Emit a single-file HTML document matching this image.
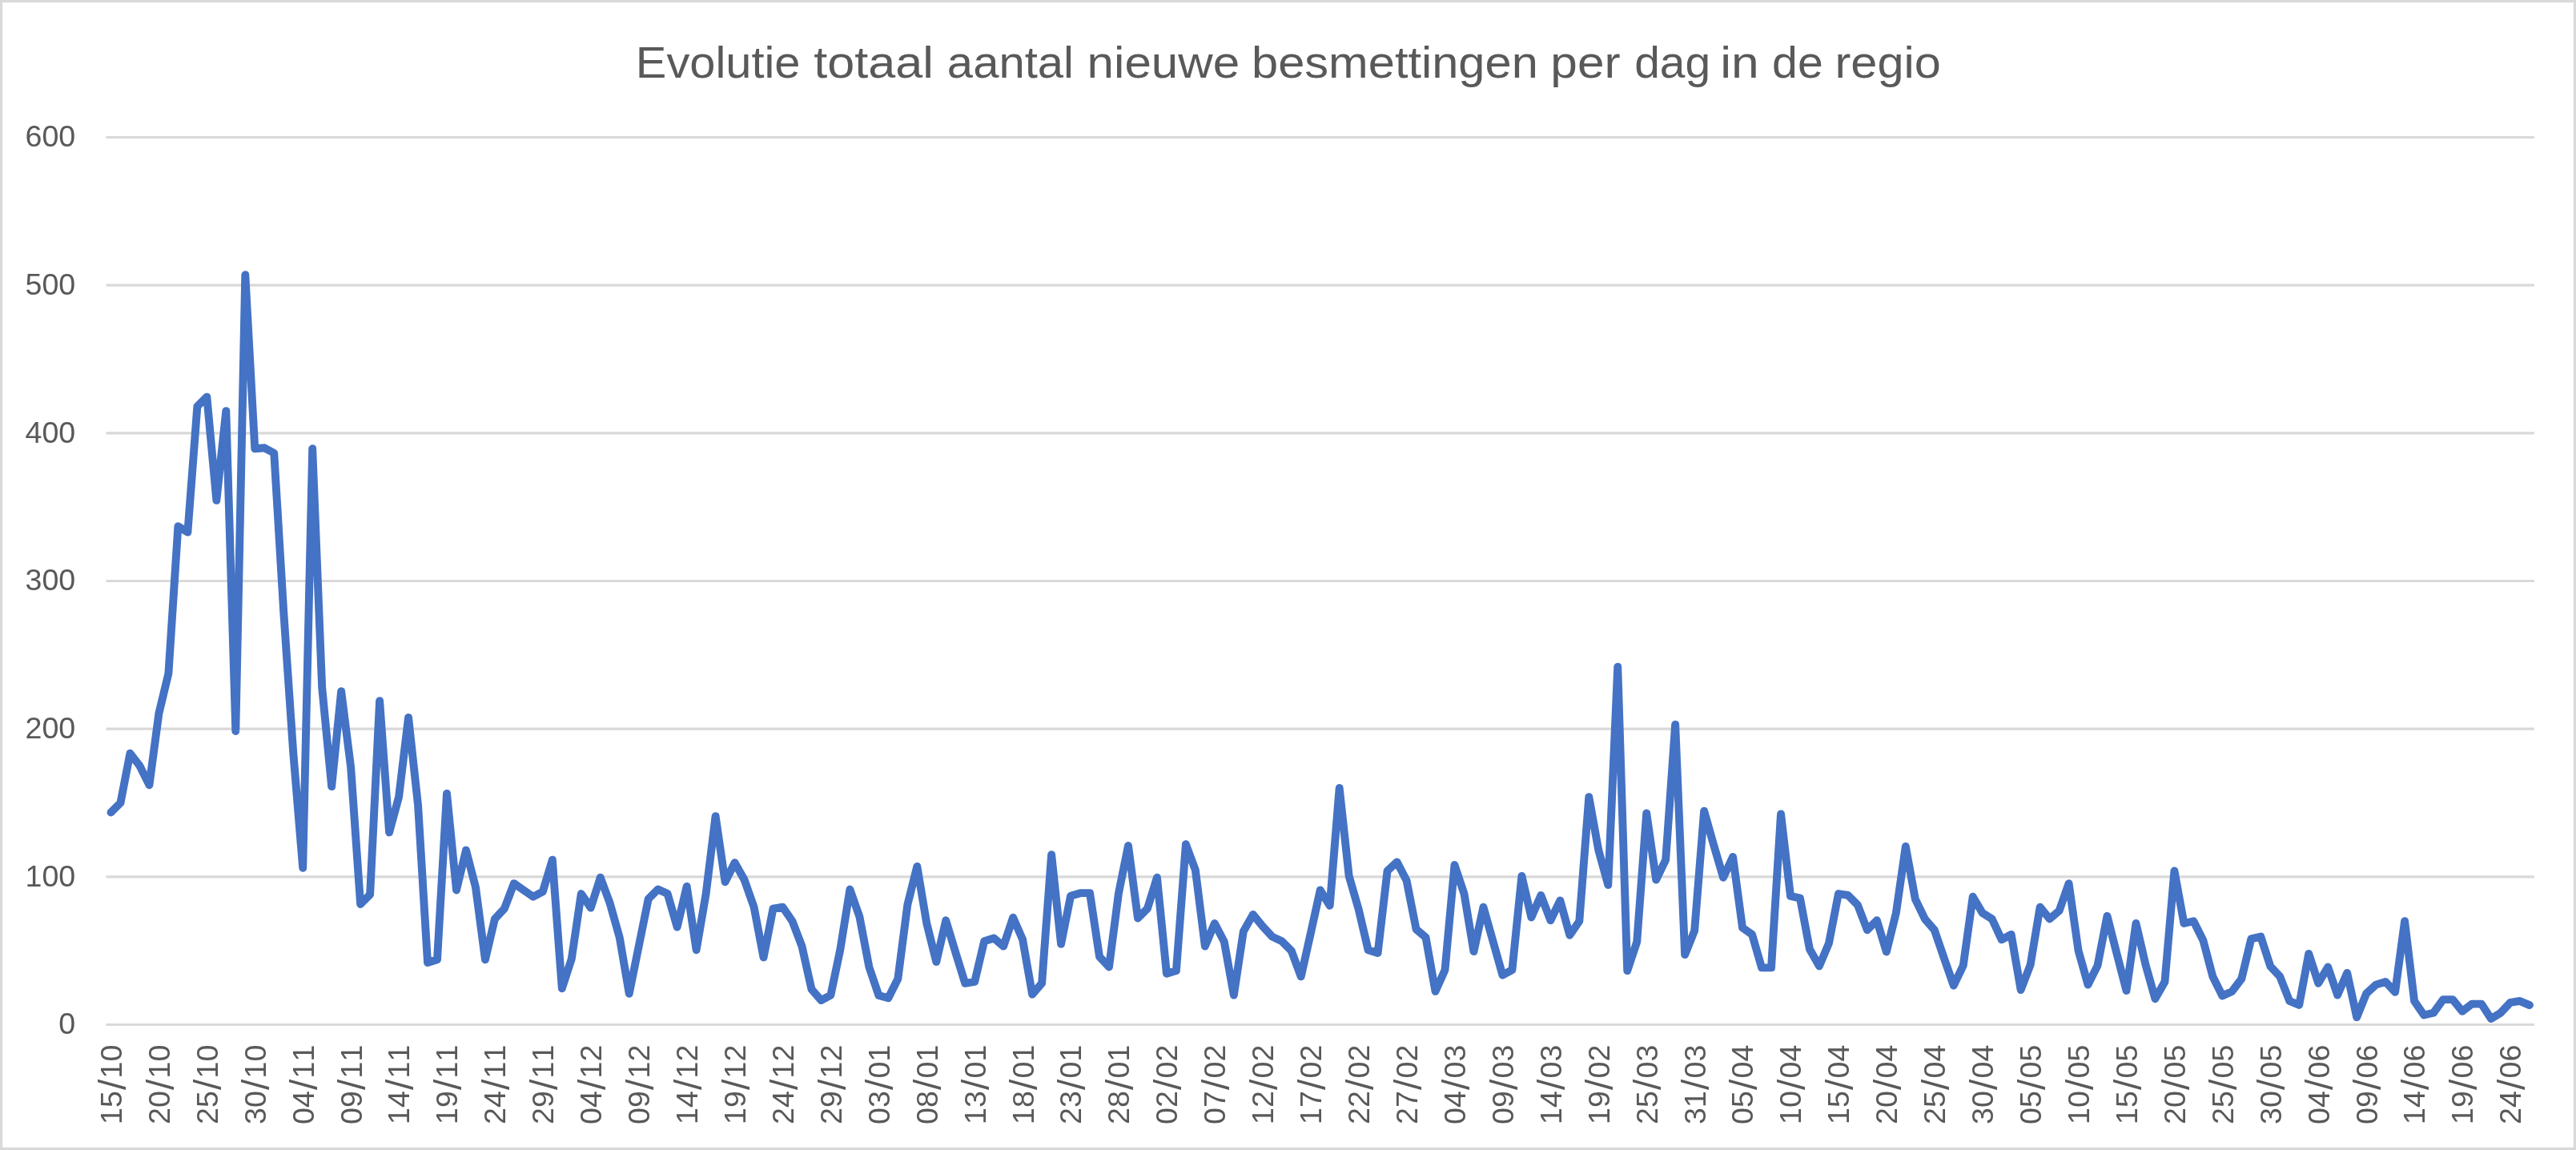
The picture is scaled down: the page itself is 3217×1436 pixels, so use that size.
<!DOCTYPE html>
<html lang="nl"><head><meta charset="utf-8"><title>Evolutie totaal aantal nieuwe besmettingen per dag in de regio</title>
<style>html,body{margin:0;padding:0;background:#fff;}body{width:3217px;height:1436px;overflow:hidden;}svg{display:block;}text{font-family:"Liberation Sans",sans-serif;fill:#595959;}</style></head><body>
<svg width="3217" height="1436" viewBox="0 0 3217 1436">
<rect x="0" y="0" width="3217" height="1436" fill="#fff"/>
<rect x="1.60" y="1.60" width="3213.80" height="1432.80" fill="none" stroke="#d9d9d9" stroke-width="3.20"/>
<g stroke="#d9d9d9" stroke-width="3.1" fill="none">
<line x1="132.5" y1="1279.50" x2="3164.9" y2="1279.50"/>
<line x1="132.5" y1="1094.83" x2="3164.9" y2="1094.83"/>
<line x1="132.5" y1="910.17" x2="3164.9" y2="910.17"/>
<line x1="132.5" y1="725.50" x2="3164.9" y2="725.50"/>
<line x1="132.5" y1="540.83" x2="3164.9" y2="540.83"/>
<line x1="132.5" y1="356.17" x2="3164.9" y2="356.17"/>
<line x1="132.5" y1="171.50" x2="3164.9" y2="171.50"/>
</g>
<g opacity="0.999">
<text id="title" y="97" font-size="54.6"><tspan x="793.87" textLength="205.59" lengthAdjust="spacingAndGlyphs">Evolutie</tspan> <tspan x="1016.28" textLength="149.61" lengthAdjust="spacingAndGlyphs">totaal</tspan> <tspan x="1182.87" textLength="158.11" lengthAdjust="spacingAndGlyphs">aantal</tspan> <tspan x="1357.59" textLength="190.63" lengthAdjust="spacingAndGlyphs">nieuwe</tspan> <tspan x="1563.03" textLength="357.79" lengthAdjust="spacingAndGlyphs">besmettingen</tspan> <tspan x="1936.38" textLength="87.23" lengthAdjust="spacingAndGlyphs">per</tspan> <tspan x="2041.21" textLength="95.01" lengthAdjust="spacingAndGlyphs">dag</tspan> <tspan x="2148.23" textLength="48.57" lengthAdjust="spacingAndGlyphs">in</tspan> <tspan x="2213.10" textLength="63.66" lengthAdjust="spacingAndGlyphs">de</tspan> <tspan x="2291.54" textLength="132.28" lengthAdjust="spacingAndGlyphs">regio</tspan></text>
<g font-size="37.6" text-anchor="end">
<text class="yl" x="94.2" y="1291.40">0</text>
<text class="yl" x="94.2" y="1106.73">100</text>
<text class="yl" x="94.2" y="922.07">200</text>
<text class="yl" x="94.2" y="737.40">300</text>
<text class="yl" x="94.2" y="552.73">400</text>
<text class="yl" x="94.2" y="368.07">500</text>
<text class="yl" x="94.2" y="183.40">600</text>
</g>
<g font-size="37.6">
<text class="xl" transform="translate(151.89 1404.0) rotate(-90)" y="0"><tspan x="0.00 20.90">15</tspan><tspan x="43.03" dy="4.7" font-size="48.0">/</tspan><tspan x="57.60 78.50" dy="-4.7">10</tspan></text>
<text class="xl" transform="translate(211.82 1404.0) rotate(-90)" y="0"><tspan x="0.00 20.90">20</tspan><tspan x="43.03" dy="4.7" font-size="48.0">/</tspan><tspan x="57.60 78.50" dy="-4.7">10</tspan></text>
<text class="xl" transform="translate(271.75 1404.0) rotate(-90)" y="0"><tspan x="0.00 20.90">25</tspan><tspan x="43.03" dy="4.7" font-size="48.0">/</tspan><tspan x="57.60 78.50" dy="-4.7">10</tspan></text>
<text class="xl" transform="translate(331.68 1404.0) rotate(-90)" y="0"><tspan x="0.00 20.90">30</tspan><tspan x="43.03" dy="4.7" font-size="48.0">/</tspan><tspan x="57.60 78.50" dy="-4.7">10</tspan></text>
<text class="xl" transform="translate(391.61 1404.0) rotate(-90)" y="0"><tspan x="0.00 20.90">04</tspan><tspan x="43.03" dy="4.7" font-size="48.0">/</tspan><tspan x="57.60 78.50" dy="-4.7">11</tspan></text>
<text class="xl" transform="translate(451.54 1404.0) rotate(-90)" y="0"><tspan x="0.00 20.90">09</tspan><tspan x="43.03" dy="4.7" font-size="48.0">/</tspan><tspan x="57.60 78.50" dy="-4.7">11</tspan></text>
<text class="xl" transform="translate(511.47 1404.0) rotate(-90)" y="0"><tspan x="0.00 20.90">14</tspan><tspan x="43.03" dy="4.7" font-size="48.0">/</tspan><tspan x="57.60 78.50" dy="-4.7">11</tspan></text>
<text class="xl" transform="translate(571.39 1404.0) rotate(-90)" y="0"><tspan x="0.00 20.90">19</tspan><tspan x="43.03" dy="4.7" font-size="48.0">/</tspan><tspan x="57.60 78.50" dy="-4.7">11</tspan></text>
<text class="xl" transform="translate(631.32 1404.0) rotate(-90)" y="0"><tspan x="0.00 20.90">24</tspan><tspan x="43.03" dy="4.7" font-size="48.0">/</tspan><tspan x="57.60 78.50" dy="-4.7">11</tspan></text>
<text class="xl" transform="translate(691.25 1404.0) rotate(-90)" y="0"><tspan x="0.00 20.90">29</tspan><tspan x="43.03" dy="4.7" font-size="48.0">/</tspan><tspan x="57.60 78.50" dy="-4.7">11</tspan></text>
<text class="xl" transform="translate(751.18 1404.0) rotate(-90)" y="0"><tspan x="0.00 20.90">04</tspan><tspan x="43.03" dy="4.7" font-size="48.0">/</tspan><tspan x="57.60 78.50" dy="-4.7">12</tspan></text>
<text class="xl" transform="translate(811.11 1404.0) rotate(-90)" y="0"><tspan x="0.00 20.90">09</tspan><tspan x="43.03" dy="4.7" font-size="48.0">/</tspan><tspan x="57.60 78.50" dy="-4.7">12</tspan></text>
<text class="xl" transform="translate(871.04 1404.0) rotate(-90)" y="0"><tspan x="0.00 20.90">14</tspan><tspan x="43.03" dy="4.7" font-size="48.0">/</tspan><tspan x="57.60 78.50" dy="-4.7">12</tspan></text>
<text class="xl" transform="translate(930.97 1404.0) rotate(-90)" y="0"><tspan x="0.00 20.90">19</tspan><tspan x="43.03" dy="4.7" font-size="48.0">/</tspan><tspan x="57.60 78.50" dy="-4.7">12</tspan></text>
<text class="xl" transform="translate(990.90 1404.0) rotate(-90)" y="0"><tspan x="0.00 20.90">24</tspan><tspan x="43.03" dy="4.7" font-size="48.0">/</tspan><tspan x="57.60 78.50" dy="-4.7">12</tspan></text>
<text class="xl" transform="translate(1050.83 1404.0) rotate(-90)" y="0"><tspan x="0.00 20.90">29</tspan><tspan x="43.03" dy="4.7" font-size="48.0">/</tspan><tspan x="57.60 78.50" dy="-4.7">12</tspan></text>
<text class="xl" transform="translate(1110.75 1404.0) rotate(-90)" y="0"><tspan x="0.00 20.90">03</tspan><tspan x="43.03" dy="4.7" font-size="48.0">/</tspan><tspan x="57.60 78.50" dy="-4.7">01</tspan></text>
<text class="xl" transform="translate(1170.68 1404.0) rotate(-90)" y="0"><tspan x="0.00 20.90">08</tspan><tspan x="43.03" dy="4.7" font-size="48.0">/</tspan><tspan x="57.60 78.50" dy="-4.7">01</tspan></text>
<text class="xl" transform="translate(1230.61 1404.0) rotate(-90)" y="0"><tspan x="0.00 20.90">13</tspan><tspan x="43.03" dy="4.7" font-size="48.0">/</tspan><tspan x="57.60 78.50" dy="-4.7">01</tspan></text>
<text class="xl" transform="translate(1290.54 1404.0) rotate(-90)" y="0"><tspan x="0.00 20.90">18</tspan><tspan x="43.03" dy="4.7" font-size="48.0">/</tspan><tspan x="57.60 78.50" dy="-4.7">01</tspan></text>
<text class="xl" transform="translate(1350.47 1404.0) rotate(-90)" y="0"><tspan x="0.00 20.90">23</tspan><tspan x="43.03" dy="4.7" font-size="48.0">/</tspan><tspan x="57.60 78.50" dy="-4.7">01</tspan></text>
<text class="xl" transform="translate(1410.40 1404.0) rotate(-90)" y="0"><tspan x="0.00 20.90">28</tspan><tspan x="43.03" dy="4.7" font-size="48.0">/</tspan><tspan x="57.60 78.50" dy="-4.7">01</tspan></text>
<text class="xl" transform="translate(1470.33 1404.0) rotate(-90)" y="0"><tspan x="0.00 20.90">02</tspan><tspan x="43.03" dy="4.7" font-size="48.0">/</tspan><tspan x="57.60 78.50" dy="-4.7">02</tspan></text>
<text class="xl" transform="translate(1530.26 1404.0) rotate(-90)" y="0"><tspan x="0.00 20.90">07</tspan><tspan x="43.03" dy="4.7" font-size="48.0">/</tspan><tspan x="57.60 78.50" dy="-4.7">02</tspan></text>
<text class="xl" transform="translate(1590.19 1404.0) rotate(-90)" y="0"><tspan x="0.00 20.90">12</tspan><tspan x="43.03" dy="4.7" font-size="48.0">/</tspan><tspan x="57.60 78.50" dy="-4.7">02</tspan></text>
<text class="xl" transform="translate(1650.11 1404.0) rotate(-90)" y="0"><tspan x="0.00 20.90">17</tspan><tspan x="43.03" dy="4.7" font-size="48.0">/</tspan><tspan x="57.60 78.50" dy="-4.7">02</tspan></text>
<text class="xl" transform="translate(1710.04 1404.0) rotate(-90)" y="0"><tspan x="0.00 20.90">22</tspan><tspan x="43.03" dy="4.7" font-size="48.0">/</tspan><tspan x="57.60 78.50" dy="-4.7">02</tspan></text>
<text class="xl" transform="translate(1769.97 1404.0) rotate(-90)" y="0"><tspan x="0.00 20.90">27</tspan><tspan x="43.03" dy="4.7" font-size="48.0">/</tspan><tspan x="57.60 78.50" dy="-4.7">02</tspan></text>
<text class="xl" transform="translate(1829.90 1404.0) rotate(-90)" y="0"><tspan x="0.00 20.90">04</tspan><tspan x="43.03" dy="4.7" font-size="48.0">/</tspan><tspan x="57.60 78.50" dy="-4.7">03</tspan></text>
<text class="xl" transform="translate(1889.83 1404.0) rotate(-90)" y="0"><tspan x="0.00 20.90">09</tspan><tspan x="43.03" dy="4.7" font-size="48.0">/</tspan><tspan x="57.60 78.50" dy="-4.7">03</tspan></text>
<text class="xl" transform="translate(1949.76 1404.0) rotate(-90)" y="0"><tspan x="0.00 20.90">14</tspan><tspan x="43.03" dy="4.7" font-size="48.0">/</tspan><tspan x="57.60 78.50" dy="-4.7">03</tspan></text>
<text class="xl" transform="translate(2009.69 1404.0) rotate(-90)" y="0"><tspan x="0.00 20.90">19</tspan><tspan x="43.03" dy="4.7" font-size="48.0">/</tspan><tspan x="57.60 78.50" dy="-4.7">02</tspan></text>
<text class="xl" transform="translate(2069.62 1404.0) rotate(-90)" y="0"><tspan x="0.00 20.90">25</tspan><tspan x="43.03" dy="4.7" font-size="48.0">/</tspan><tspan x="57.60 78.50" dy="-4.7">03</tspan></text>
<text class="xl" transform="translate(2129.55 1404.0) rotate(-90)" y="0"><tspan x="0.00 20.90">31</tspan><tspan x="43.03" dy="4.7" font-size="48.0">/</tspan><tspan x="57.60 78.50" dy="-4.7">03</tspan></text>
<text class="xl" transform="translate(2189.47 1404.0) rotate(-90)" y="0"><tspan x="0.00 20.90">05</tspan><tspan x="43.03" dy="4.7" font-size="48.0">/</tspan><tspan x="57.60 78.50" dy="-4.7">04</tspan></text>
<text class="xl" transform="translate(2249.40 1404.0) rotate(-90)" y="0"><tspan x="0.00 20.90">10</tspan><tspan x="43.03" dy="4.7" font-size="48.0">/</tspan><tspan x="57.60 78.50" dy="-4.7">04</tspan></text>
<text class="xl" transform="translate(2309.33 1404.0) rotate(-90)" y="0"><tspan x="0.00 20.90">15</tspan><tspan x="43.03" dy="4.7" font-size="48.0">/</tspan><tspan x="57.60 78.50" dy="-4.7">04</tspan></text>
<text class="xl" transform="translate(2369.26 1404.0) rotate(-90)" y="0"><tspan x="0.00 20.90">20</tspan><tspan x="43.03" dy="4.7" font-size="48.0">/</tspan><tspan x="57.60 78.50" dy="-4.7">04</tspan></text>
<text class="xl" transform="translate(2429.19 1404.0) rotate(-90)" y="0"><tspan x="0.00 20.90">25</tspan><tspan x="43.03" dy="4.7" font-size="48.0">/</tspan><tspan x="57.60 78.50" dy="-4.7">04</tspan></text>
<text class="xl" transform="translate(2489.12 1404.0) rotate(-90)" y="0"><tspan x="0.00 20.90">30</tspan><tspan x="43.03" dy="4.7" font-size="48.0">/</tspan><tspan x="57.60 78.50" dy="-4.7">04</tspan></text>
<text class="xl" transform="translate(2549.05 1404.0) rotate(-90)" y="0"><tspan x="0.00 20.90">05</tspan><tspan x="43.03" dy="4.7" font-size="48.0">/</tspan><tspan x="57.60 78.50" dy="-4.7">05</tspan></text>
<text class="xl" transform="translate(2608.98 1404.0) rotate(-90)" y="0"><tspan x="0.00 20.90">10</tspan><tspan x="43.03" dy="4.7" font-size="48.0">/</tspan><tspan x="57.60 78.50" dy="-4.7">05</tspan></text>
<text class="xl" transform="translate(2668.90 1404.0) rotate(-90)" y="0"><tspan x="0.00 20.90">15</tspan><tspan x="43.03" dy="4.7" font-size="48.0">/</tspan><tspan x="57.60 78.50" dy="-4.7">05</tspan></text>
<text class="xl" transform="translate(2728.83 1404.0) rotate(-90)" y="0"><tspan x="0.00 20.90">20</tspan><tspan x="43.03" dy="4.7" font-size="48.0">/</tspan><tspan x="57.60 78.50" dy="-4.7">05</tspan></text>
<text class="xl" transform="translate(2788.76 1404.0) rotate(-90)" y="0"><tspan x="0.00 20.90">25</tspan><tspan x="43.03" dy="4.7" font-size="48.0">/</tspan><tspan x="57.60 78.50" dy="-4.7">05</tspan></text>
<text class="xl" transform="translate(2848.69 1404.0) rotate(-90)" y="0"><tspan x="0.00 20.90">30</tspan><tspan x="43.03" dy="4.7" font-size="48.0">/</tspan><tspan x="57.60 78.50" dy="-4.7">05</tspan></text>
<text class="xl" transform="translate(2908.62 1404.0) rotate(-90)" y="0"><tspan x="0.00 20.90">04</tspan><tspan x="43.03" dy="4.7" font-size="48.0">/</tspan><tspan x="57.60 78.50" dy="-4.7">06</tspan></text>
<text class="xl" transform="translate(2968.55 1404.0) rotate(-90)" y="0"><tspan x="0.00 20.90">09</tspan><tspan x="43.03" dy="4.7" font-size="48.0">/</tspan><tspan x="57.60 78.50" dy="-4.7">06</tspan></text>
<text class="xl" transform="translate(3028.48 1404.0) rotate(-90)" y="0"><tspan x="0.00 20.90">14</tspan><tspan x="43.03" dy="4.7" font-size="48.0">/</tspan><tspan x="57.60 78.50" dy="-4.7">06</tspan></text>
<text class="xl" transform="translate(3088.41 1404.0) rotate(-90)" y="0"><tspan x="0.00 20.90">19</tspan><tspan x="43.03" dy="4.7" font-size="48.0">/</tspan><tspan x="57.60 78.50" dy="-4.7">06</tspan></text>
<text class="xl" transform="translate(3148.34 1404.0) rotate(-90)" y="0"><tspan x="0.00 20.90">24</tspan><tspan x="43.03" dy="4.7" font-size="48.0">/</tspan><tspan x="57.60 78.50" dy="-4.7">06</tspan></text>
</g>
</g>
<polyline points="138.49,1014.50 150.48,1002.50 162.46,940.64 174.45,956.33 186.44,980.34 198.42,890.78 210.41,840.92 222.39,657.17 234.38,664.56 246.36,507.59 258.35,495.59 270.34,624.86 282.32,513.13 294.31,912.94 306.29,343.24 318.28,560.22 330.27,559.30 342.25,565.76 354.24,764.28 366.22,939.71 378.21,1083.75 390.19,560.22 402.18,858.46 414.17,982.19 426.15,863.08 438.14,958.18 450.12,1129.00 462.11,1116.99 474.09,875.08 486.08,1039.43 498.07,995.11 510.05,895.95 522.04,1005.27 534.02,1201.94 546.01,1198.25 557.99,990.87 569.98,1111.45 581.97,1061.59 593.95,1107.76 605.94,1198.25 617.92,1147.46 629.91,1134.54 641.90,1103.14 653.88,1111.45 665.87,1119.76 677.85,1113.30 689.84,1073.60 701.82,1234.26 713.81,1197.32 725.80,1116.07 737.78,1133.61 749.77,1095.76 761.75,1128.07 773.74,1170.55 785.72,1240.72 797.71,1181.63 809.70,1122.53 821.68,1110.53 833.67,1116.07 845.65,1157.62 857.64,1106.84 869.62,1186.24 881.61,1116.07 893.60,1019.12 905.58,1101.30 917.57,1077.29 929.55,1098.53 941.54,1132.69 953.53,1195.48 965.51,1134.54 977.50,1132.69 989.48,1150.23 1001.47,1181.63 1013.45,1235.18 1025.44,1249.03 1037.43,1242.57 1049.41,1185.32 1061.40,1110.53 1073.38,1144.69 1085.37,1207.48 1097.35,1242.94 1109.34,1246.26 1121.33,1222.25 1133.31,1129.92 1145.30,1081.91 1157.28,1153.00 1169.27,1201.02 1181.25,1149.31 1193.24,1189.01 1205.23,1227.79 1217.21,1225.95 1229.20,1175.16 1241.18,1171.47 1253.17,1181.63 1265.16,1145.62 1277.14,1173.32 1289.13,1241.64 1301.11,1227.79 1313.10,1067.13 1325.08,1178.86 1337.07,1118.84 1349.06,1115.15 1361.04,1115.15 1373.03,1194.55 1385.01,1207.48 1397.00,1115.15 1408.98,1056.05 1420.97,1146.54 1432.96,1134.54 1444.94,1095.76 1456.93,1215.79 1468.91,1212.10 1480.90,1054.21 1492.88,1086.52 1504.87,1181.63 1516.86,1153.00 1528.84,1176.09 1540.83,1242.57 1552.81,1163.16 1564.80,1141.92 1576.79,1156.70 1588.77,1169.62 1600.76,1175.16 1612.74,1187.17 1624.73,1219.48 1636.71,1165.93 1648.70,1111.45 1660.69,1130.84 1672.67,984.03 1684.66,1093.91 1696.64,1135.46 1708.63,1186.24 1720.61,1189.94 1732.60,1087.45 1744.59,1076.37 1756.57,1099.45 1768.56,1160.39 1780.54,1170.55 1792.53,1237.95 1804.52,1211.17 1816.50,1080.06 1828.49,1116.07 1840.47,1188.09 1852.46,1132.69 1864.44,1175.16 1876.43,1217.64 1888.42,1211.17 1900.40,1093.91 1912.39,1145.62 1924.37,1117.92 1936.36,1149.31 1948.34,1124.38 1960.33,1167.78 1972.32,1150.23 1984.30,995.11 1996.29,1061.59 2008.27,1104.99 2020.26,832.61 2032.24,1212.10 2044.23,1176.09 2056.22,1015.43 2068.20,1098.53 2080.19,1073.60 2092.17,904.63 2104.16,1192.15 2116.15,1162.24 2128.13,1012.66 2140.12,1055.13 2152.10,1095.76 2164.09,1069.90 2176.07,1158.54 2188.06,1166.85 2200.05,1208.40 2212.03,1208.40 2224.02,1016.35 2236.00,1118.84 2247.99,1121.61 2259.97,1185.32 2271.96,1206.37 2283.95,1177.93 2295.93,1116.07 2307.92,1117.92 2319.90,1129.92 2331.89,1161.31 2343.87,1149.31 2355.86,1188.46 2367.85,1140.08 2379.83,1056.98 2391.82,1122.53 2403.80,1147.46 2415.79,1161.31 2427.78,1196.40 2439.76,1230.56 2451.75,1205.63 2463.73,1119.76 2475.72,1140.08 2487.70,1147.46 2499.69,1173.32 2511.68,1166.85 2523.66,1236.10 2535.65,1204.71 2547.63,1132.69 2559.62,1147.46 2571.60,1137.31 2583.59,1103.14 2595.58,1187.17 2607.56,1229.64 2619.55,1205.63 2631.53,1143.77 2643.52,1190.86 2655.50,1237.03 2667.49,1153.00 2679.48,1204.71 2691.46,1247.18 2703.45,1225.95 2715.43,1087.45 2727.42,1153.00 2739.41,1150.23 2751.39,1174.24 2763.38,1219.48 2775.36,1243.49 2787.35,1237.95 2799.33,1222.25 2811.32,1172.39 2823.31,1169.62 2835.29,1206.56 2847.28,1219.48 2859.26,1249.95 2871.25,1254.94 2883.23,1190.86 2895.22,1227.79 2907.21,1207.48 2919.19,1242.57 2931.18,1214.87 2943.16,1270.27 2955.15,1240.72 2967.13,1229.64 2979.12,1225.95 2991.11,1238.87 3003.09,1150.23 3015.08,1249.95 3027.06,1267.50 3039.05,1264.73 3051.04,1248.11 3063.02,1248.11 3075.01,1262.88 3086.99,1253.65 3098.98,1253.65 3110.96,1272.11 3122.95,1264.73 3134.94,1251.80 3146.92,1249.95 3158.91,1255.12" fill="none" stroke="#4472c4" stroke-width="9.9" stroke-linejoin="round" stroke-linecap="round"/>
</svg></body></html>
